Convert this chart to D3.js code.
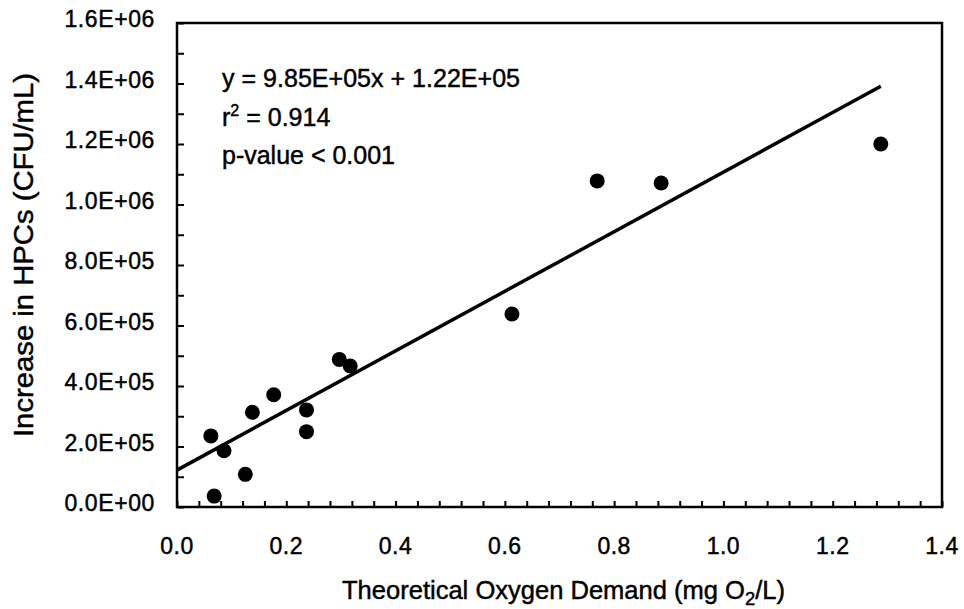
<!DOCTYPE html>
<html>
<head>
<meta charset="utf-8">
<script src="https://cdn.jsdelivr.net/npm/d3@7"></script>
<style>
  body { margin: 0; background: #fff; }
  svg { display: block; font-family: "Liberation Sans", Arial, sans-serif; }
  text { stroke: #000; stroke-width: 0.45px; }
</style>
</head>
<body>
<svg id="chart" width="964" height="609"></svg>
<script>
// ---- data ----
const tod = [0.062, 0.068, 0.086, 0.125, 0.138, 0.177, 0.237, 0.237, 0.297, 0.317, 0.613, 0.769, 0.886, 1.288];
const hpc = [235000, 36000, 186000, 108000, 313000, 371000, 321000, 249000, 488000, 466000, 638000, 1078000, 1071000, 1200000];
const fitSlope = 9.85e5;
const fitIntercept = 1.22e5;
const xTickValues = [0, 0.2, 0.4, 0.6, 0.8, 1.0, 1.2, 1.4];
const yTickValues = [0, 2e5, 4e5, 6e5, 8e5, 1e6, 1.2e6, 1.4e6, 1.6e6];
const annotation = ["y = 9.85E+05x + 1.22E+05", "r² = 0.914", "p-value < 0.001"];

const svg = d3.select("#chart");
const L = 177, R = 942, T = 23, B = 507;

const x = d3.scaleLinear().domain([0, 1.4]).range([L, R]);
const y = d3.scaleLinear().domain([0, 1.6e6]).range([B, T]);

// minor ticks
const xMinor = d3.range(0, 1.4001, 0.04);
const yMinor = d3.range(0, 1.6e6 + 1, 1e5);

const xAxis = d3.axisBottom(x).tickValues(xMinor).tickSize(-6).tickFormat("");
svg.append("g").attr("transform", `translate(0,${B})`).call(xAxis)
  .call(g => g.select(".domain").remove())
  .call(g => g.selectAll("line").attr("stroke", "#000").attr("stroke-width", 2));

const yAxis = d3.axisLeft(y).tickValues(yMinor).tickSize(-7).tickFormat("");
svg.append("g").attr("transform", `translate(${L},0)`).call(yAxis)
  .call(g => g.select(".domain").remove())
  .call(g => g.selectAll("line").attr("stroke", "#000").attr("stroke-width", 2));

// frame
svg.append("rect").attr("x", L).attr("y", T).attr("width", R - L).attr("height", B - T)
  .attr("fill", "none").attr("stroke", "#000").attr("stroke-width", 2.5);

// tick labels
svg.append("g").selectAll("text").data(xTickValues).join("text")
  .attr("x", d => x(d)).attr("y", 546).attr("dy", "0.35em")
  .attr("text-anchor", "middle").attr("font-size", 23).attr("letter-spacing", 0.5).attr("fill", "#000")
  .text(d => d.toFixed(1));

function sci(v) {
  if (v === 0) return "0.0E+00";
  const e = Math.floor(Math.log10(v));
  const m = v / Math.pow(10, e);
  return m.toFixed(1) + "E+" + String(e).padStart(2, "0");
}
svg.append("g").selectAll("text").data(yTickValues).join("text")
  .attr("x", 155).attr("y", d => y(d) - 4).attr("dy", "0.35em")
  .attr("text-anchor", "end").attr("font-size", 23).attr("letter-spacing", 0.6).attr("fill", "#000")
  .text(d => sci(d));

// axis titles
const xt = svg.append("text").attr("x", 342).attr("y", 590).attr("dy", "0.35em")
  .attr("font-size", 25).attr("fill", "#000")
  .attr("textLength", 443).attr("lengthAdjust", "spacingAndGlyphs");
xt.append("tspan").text("Theoretical Oxygen Demand (mg O");
xt.append("tspan").attr("font-size", 18).attr("dy", 6).text("2");
xt.append("tspan").attr("dy", -6).text("/L)");

svg.append("text").attr("transform", "translate(24,255) rotate(-90)").attr("dy", "0.35em")
  .attr("text-anchor", "middle").attr("font-size", 27).attr("fill", "#000")
  .attr("textLength", 364).attr("lengthAdjust", "spacingAndGlyphs")
  .text("Increase in HPCs (CFU/mL)");

// regression line
const xs = [0, d3.max(tod)];
svg.append("line")
  .attr("x1", x(xs[0])).attr("y1", y(fitSlope * xs[0] + fitIntercept))
  .attr("x2", x(xs[1])).attr("y2", y(fitSlope * xs[1] + fitIntercept))
  .attr("stroke", "#000").attr("stroke-width", 3.5);

// points
svg.append("g").selectAll("circle").data(tod.map((v, i) => [v, hpc[i]])).join("circle")
  .attr("cx", d => x(d[0])).attr("cy", d => y(d[1])).attr("r", 7.5).attr("fill", "#000");

// annotation
const ann = svg.append("g").attr("font-size", 25).attr("fill", "#000");
ann.append("text").attr("x", 222).attr("y", 78).attr("dy", "0.35em")
  .attr("textLength", 298).attr("lengthAdjust", "spacingAndGlyphs").text(annotation[0]);
const r2 = ann.append("text").attr("x", 222).attr("y", 117).attr("dy", "0.35em");
r2.append("tspan").text("r");
r2.append("tspan").attr("font-size", 16).attr("dy", -10).text("2");
r2.append("tspan").attr("dy", 10).text(" = 0.914");
ann.append("text").attr("x", 222).attr("y", 155).attr("dy", "0.35em")
  .attr("textLength", 173).attr("lengthAdjust", "spacingAndGlyphs").text(annotation[2]);
</script>
</body>
</html>
